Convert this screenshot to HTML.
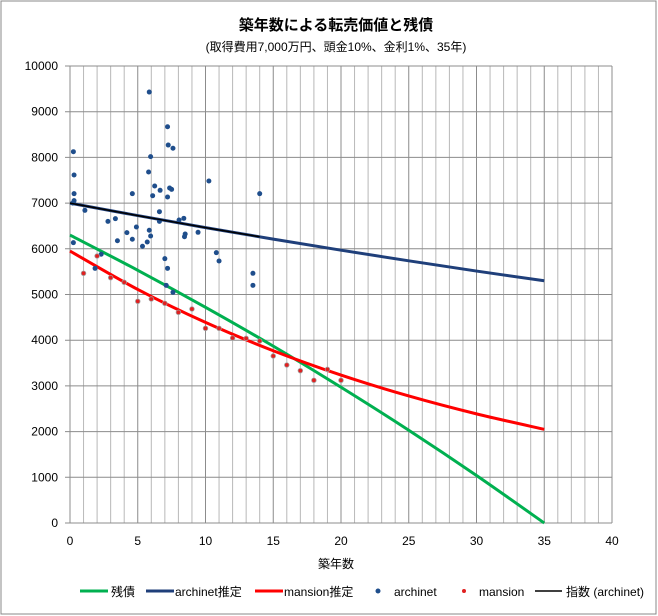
<!DOCTYPE html>
<html><head><meta charset="utf-8"><style>
body{margin:0;background:#fff;}
svg{display:block;font-family:"Liberation Sans","Noto Sans CJK JP",sans-serif;}
</style></head><body>
<svg id="chart" width="658" height="616" viewBox="0 0 658 616">
<rect x="1" y="1" width="655" height="613" fill="#fff" stroke="#888" stroke-width="1"/>
<text x="336" y="30" text-anchor="middle" font-size="15" font-weight="bold">築年数による転売価値と残債</text>
<text x="336" y="51" text-anchor="middle" font-size="12">(取得費用7,000万円、頭金10%、金利1%、35年)</text>
<g id="grid"></g>
<g id="yt"></g>
<g id="xt"></g>
<g id="series"></g>
<text x="336" y="568" text-anchor="middle" font-size="12">築年数</text>
<g font-size="12">
<g><line x1="80" y1="591" x2="108" y2="591" stroke="#00b050" stroke-width="3"/><text x="111" y="596">残債</text></g>
<g><line x1="146" y1="591" x2="174" y2="591" stroke="#1f3f7a" stroke-width="3"/><text x="175" y="596">archinet推定</text></g>
<g><line x1="255" y1="591" x2="283" y2="591" stroke="#ff0000" stroke-width="3"/><text x="284" y="596">mansion推定</text></g>
<g><circle cx="378" cy="591" r="2.5" fill="#1f4e8c"/><text x="394" y="596">archinet</text></g>
<g><circle cx="464" cy="591" r="2" fill="#e02020"/><text x="479" y="596">mansion</text></g>
<g><line x1="535" y1="591" x2="562" y2="591" stroke="#000" stroke-width="1.5"/><text x="566" y="596">指数 (archinet)</text></g>
</g>
</svg>
<script>
const xTicks=[0,5,10,15,20,25,30,35,40];
const yTicks=[0,1000,2000,3000,4000,5000,6000,7000,8000,9000,10000];
const curveYears=[0,5,10,15,20,25,30,35];
const zansai=[6300,5530,4720,3870,2970,2030,1040,0];
const archinetEst=[7000,6727,6464,6212,5970,5737,5513,5300];
const mansionEst=[5950,5111,4389,3770,3237,2780,2388,2050];
const expYears=[0,5,10,14];
const expArchinet=[7000,6727,6464,6263];
const archinetX=[5.85,7.2,7.25,7.6,0.25,5.95,0.3,5.8,10.25,6.25,6.65,7.35,7.5,0.3,4.6,14.0,6.1,7.2,0.3,0.2,1.1,6.6,8.05,8.4,6.6,2.8,3.35,4.9,4.2,9.45,8.5,8.45,5.85,5.95,3.5,4.6,5.7,5.35,0.25,10.8,11.0,7.0,7.2,13.5,13.5,1.85,2.3,7.1,7.6];
const archinetY=[9430,8670,8270,8200,8125,8016,7615,7680,7483,7374,7280,7330,7300,7206,7206,7206,7162,7134,7053,7000,6842,6812,6630,6667,6601,6601,6659,6477,6353,6361,6324,6265,6405,6280,6177,6208,6149,6055,6134,5915,5733,5784,5573,5464,5201,5573,5880,5201,5048];
const mansionX=[1,2,3,4,5,6,7,8,9,10,11,12,13,14,15,16,17,18,19,20];
const mansionY=[5464,5843,5368,5267,4851,4902,4807,4610,4683,4260,4260,4048,4040,3982,3654,3457,3333,3122,3362,3122];

const L=70,R=612,T=66,B=523;
const sx=v=>L+(R-L)*v/40;
const sy=v=>B-(B-T)*v/10000;
const NS='http://www.w3.org/2000/svg';
function mk(tag,attrs,parent){const e=document.createElementNS(NS,tag);for(const k in attrs)e.setAttribute(k,attrs[k]);parent.appendChild(e);return e;}
const grid=document.getElementById('grid'),yt=document.getElementById('yt'),xt=document.getElementById('xt'),ser=document.getElementById('series');
for(let i=0;i<=40;i++){
  const l=mk('line',{x1:sx(i),x2:sx(i),y1:T,y2:B,stroke:i%5==0?'#8c8c8c':'#b8b8b8','stroke-width':1},grid);
  
  
}
yTicks.forEach(v=>{
  const l=mk('line',{x1:L-5,x2:R,y1:sy(v),y2:sy(v),stroke:'#8c8c8c','stroke-width':1},grid);
  
  
  const t=mk('text',{x:L-12,y:sy(v)+4,'text-anchor':'end','font-size':12},yt);
  t.textContent=v;
  
  
});
xTicks.forEach(v=>{
  const t=mk('text',{x:sx(v),y:545,'text-anchor':'middle','font-size':12},xt);
  t.textContent=v;
  
  
});
function smooth(xs,ys){
  const p=xs.map((x,i)=>[sx(x),sy(ys[i])]);
  let d='M'+p[0][0]+','+p[0][1];
  for(let i=0;i<p.length-1;i++){
    const p0=p[Math.max(0,i-1)],p1=p[i],p2=p[i+1],p3=p[Math.min(p.length-1,i+2)];
    const c1=[p1[0]+(p2[0]-p0[0])/6,p1[1]+(p2[1]-p0[1])/6];
    const c2=[p2[0]-(p3[0]-p1[0])/6,p2[1]-(p3[1]-p1[1])/6];
    d+=' C'+c1+' '+c2+' '+p2;
  }
  return d;
}
let e;
e=mk('path',{d:smooth(curveYears,zansai),fill:'none',stroke:'#00b050','stroke-width':3},ser);


e=mk('path',{d:smooth(curveYears,archinetEst),fill:'none',stroke:'#1f3f7a','stroke-width':3},ser);


e=mk('path',{d:smooth(curveYears,mansionEst),fill:'none',stroke:'#ff0000','stroke-width':3},ser);


archinetX.forEach((x,i)=>{
  const c=mk('circle',{cx:sx(x),cy:sy(archinetY[i]),r:2.5,fill:'#1f4e8c'},ser);
  
  
});
mansionX.forEach((x,i)=>{
  const c=mk('circle',{cx:sx(x),cy:sy(mansionY[i]),r:2.3,fill:'#e02020',stroke:'#a0a0a0','stroke-width':0.8},ser);
  
  
});
e=mk('path',{d:smooth(expYears,expArchinet),fill:'none',stroke:'#000','stroke-width':1.5},ser);


</script>
</body></html>
